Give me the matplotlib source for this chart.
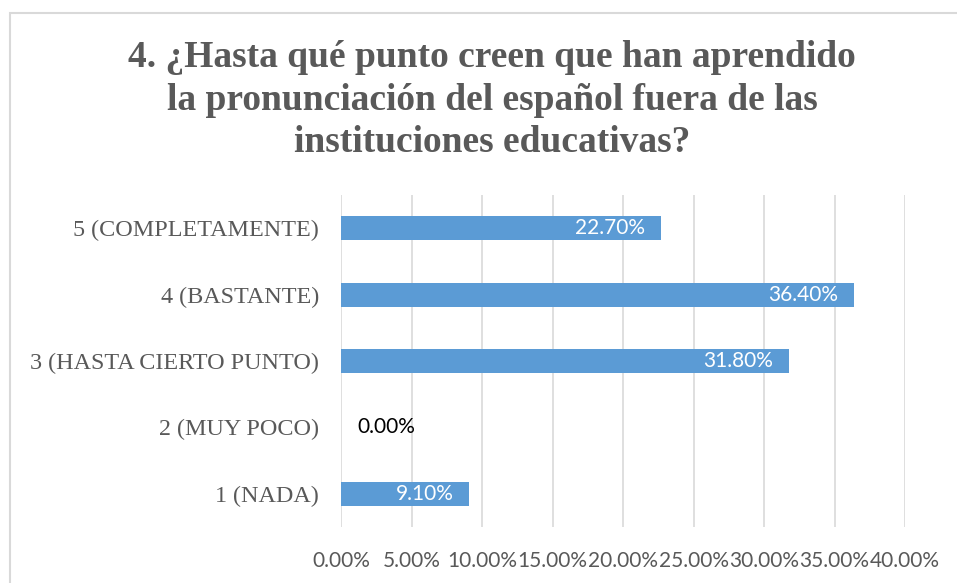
import matplotlib.pyplot as plt
from matplotlib.patches import Rectangle

# data (bottom to top)
categories = ["1 (NADA)", "2 (MUY POCO)", "3 (HASTA CIERTO PUNTO)",
              "4 (BASTANTE)", "5 (COMPLETAMENTE)"]
values = [9.10, 0.00, 31.80, 36.40, 22.70]
xticks = [0, 5, 10, 15, 20, 25, 30, 35, 40]

title = ("4. ¿Hasta qué punto creen que han aprendido\n"
         "la pronunciación del español fuera de las\n"
         "instituciones educativas?")

bar_color = "#5B9BD5"
grid_color = "#D9D9D9"
text_gray = "#595959"

fig = plt.figure(figsize=(9.57, 5.83), dpi=100)
ax = fig.add_axes([341 / 957, 56 / 583, 564 / 957, 332 / 583])

ypos = list(range(len(categories)))
ax.barh(ypos, values, height=0.36, color=bar_color, zorder=2)

ax.set_xlim(0, 40)
ax.set_ylim(-0.5, len(categories) - 0.5)
ax.set_xticks(xticks)
ax.set_xticklabels([f"{t:.2f}%" for t in xticks], family="Lato",
                   fontsize=15, color=text_gray)
ax.set_yticks(ypos)
ax.set_yticklabels(categories, family="Liberation Serif", fontsize=17.4,
                   color=text_gray)
ax.tick_params(axis="x", length=0, pad=17)
ax.tick_params(axis="y", length=0, pad=16)
ax.grid(axis="x", color=grid_color, linewidth=1.2, zorder=0)
for s in ax.spines.values():
    s.set_visible(False)

for y, v in zip(ypos, values):
    if v > 0:
        ax.annotate(f"{v:.2f}%", xy=(v, y), xytext=(-11.5, 0),
                    textcoords="offset points", ha="right", va="center",
                    family="Lato", fontsize=15, color="white", zorder=3)
    else:
        ax.annotate(f"{v:.2f}%", xy=(v, y), xytext=(11.5, 0),
                    textcoords="offset points", ha="left", va="center",
                    family="Lato", fontsize=15, color="black", zorder=3)

fig.text(492 / 957, 1 - 100 / 583, title, ha="center", va="center",
         family="Liberation Serif", fontweight="bold", fontsize=27,
         color=text_gray, linespacing=1.28)

fig.patches.append(Rectangle((10 / 957, -0.1), 1.0, 1.1 - 13 / 583,
                             transform=fig.transFigure, fill=False,
                             edgecolor=grid_color, linewidth=1.5))

fig.savefig("out.png", dpi=100)
